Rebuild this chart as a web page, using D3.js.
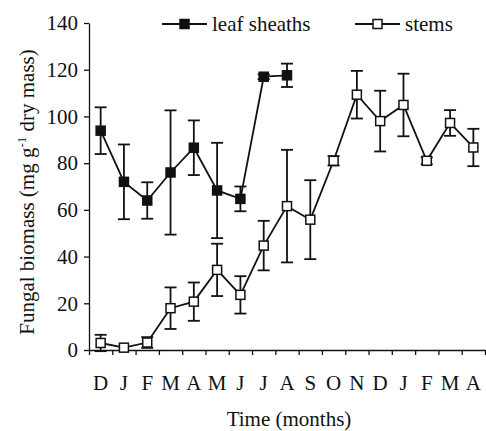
<!DOCTYPE html>
<html>
<head>
<meta charset="utf-8">
<script src="https://cdn.jsdelivr.net/npm/d3@7"></script>
<style>
  html, body { margin: 0; padding: 0; background: #fff; }
  svg { display: block; }
  svg text { font-family: "Liberation Serif", "Times New Roman", Times, "DejaVu Serif", serif !important; fill: #111; }
</style>
</head>
<body>
<script>
// Monthly sampling dates (December to April of the following year)
const months = ["D","J","F","M","A","M","J","J","A","S","O","N","D","J","F","M","A"];

// Leaf sheaths: mean fungal biomass and error (first 9 months)
const leafMean = [93.9, 72.0, 64.0, 76.0, 86.6, 68.3, 64.7, 117.0, 117.6];
const leafErr  = [10.0, 16.0, 7.8, 26.6, 11.7, 20.4, 5.3, 1.0, 5.0];

// Stems: mean fungal biomass and error (all months)
const stemMean = [3.0, 1.0, 3.2, 17.9, 20.7, 34.3, 23.6, 44.7, 61.6, 55.8, 81.0, 109.3, 98.0, 104.9, 81.0, 97.2, 86.7];
const stemErr  = [3.5, 0.0, 2.3, 8.9, 8.2, 11.2, 8.0, 10.6, 24.1, 16.9, 2.0, 10.2, 13.0, 13.4, 1.5, 5.5, 8.0];

const yTicks = [0, 20, 40, 60, 80, 100, 120, 140];

const W = 486, H = 431;
const FONT = '"Liberation Serif", "Times New Roman", Times, "DejaVu Serif", serif';
const FS = "21px";
const svg = d3.select("body").append("svg").attr("width", W).attr("height", H)
  .attr("font-family", FONT);

const x = d3.scaleBand().domain(d3.range(months.length)).range([89, 485]);
const y = d3.scaleLinear().domain([0, 140]).range([350, 23]);
const cx = i => x(i) + x.bandwidth() / 2;

// Axes
const yAxis = d3.axisLeft(y).tickValues(yTicks).tickSize(5).tickPadding(6).tickSizeOuter(0);
const gy = svg.append("g").attr("transform", "translate(89,0)").call(yAxis)
  .attr("font-family", FONT);
gy.selectAll("text").style("font-size", FS).style("font-family", FONT);

const xTickAxis = d3.axisBottom(d3.scaleLinear().domain([0, months.length]).range([89, 485]))
  .tickValues(d3.range(months.length + 1)).tickSize(5).tickSizeOuter(0).tickFormat("");
svg.append("g").attr("transform", "translate(0,350)").call(xTickAxis);

svg.selectAll(".domain, .tick line").attr("stroke", "#111").attr("stroke-width", 1.3);

svg.append("g").selectAll("text").data(months).join("text")
  .attr("x", (d, i) => cx(i)).attr("y", 390)
  .attr("text-anchor", "middle").style("font-size", FS).style("font-family", FONT).text(d => d);

// Axis titles
svg.append("text").attr("x", 289).attr("y", 426).attr("text-anchor", "middle")
  .style("font-size", FS).style("font-family", FONT).text("Time (months)");

const yl = svg.append("text")
  .attr("transform", "translate(34,192) rotate(-90)")
  .attr("text-anchor", "middle").style("font-size", FS).style("font-family", FONT);
yl.append("tspan").text("Fungal biomass (mg g");
yl.append("tspan").attr("dy", -8).style("font-size", "13px").text("-1");
yl.append("tspan").attr("dy", 8).text(" dry mass)");

// Series drawing helper
function drawSeries(mean, err, filled) {
  const idx = d3.range(mean.length);
  const g = svg.append("g");
  const cap = 6;
  const eb = g.append("g").attr("stroke", "#111").attr("stroke-width", 1.8);
  idx.forEach(i => {
    if (err[i] <= 0) return;
    const lo = y(mean[i] - err[i]), hi = y(mean[i] + err[i]);
    eb.append("line").attr("x1", cx(i)).attr("x2", cx(i)).attr("y1", lo).attr("y2", hi);
    eb.append("line").attr("x1", cx(i) - cap).attr("x2", cx(i) + cap).attr("y1", lo).attr("y2", lo);
    eb.append("line").attr("x1", cx(i) - cap).attr("x2", cx(i) + cap).attr("y1", hi).attr("y2", hi);
  });
  const line = d3.line().x(i => cx(i)).y(i => y(mean[i]));
  g.append("path").datum(idx).attr("d", line)
    .attr("fill", "none").attr("stroke", "#111").attr("stroke-width", 1.8);
  const s = 9;
  g.selectAll("rect").data(idx).join("rect")
    .attr("x", i => cx(i) - s / 2).attr("y", i => y(mean[i]) - s / 2)
    .attr("width", s).attr("height", s)
    .attr("fill", filled ? "#111" : "#fff").attr("stroke", "#111").attr("stroke-width", 1.5);
}

drawSeries(stemMean, stemErr, false);
drawSeries(leafMean, leafErr, true);

// Legend
const legend = [
  { label: "leaf sheaths", filled: true, x0: 162 },
  { label: "stems", filled: false, x0: 355 }
];
legend.forEach(l => {
  const g = svg.append("g").attr("transform", `translate(${l.x0},24)`);
  g.append("line").attr("x1", 0).attr("x2", 45).attr("stroke", "#111").attr("stroke-width", 1.8);
  g.append("rect").attr("x", 22.5 - 4.5).attr("y", -4.5).attr("width", 9).attr("height", 9)
    .attr("fill", l.filled ? "#111" : "#fff").attr("stroke", "#111").attr("stroke-width", 1.5);
  g.append("text").attr("x", 50).attr("y", 7).style("font-size", FS).style("font-family", FONT).text(l.label);
});
</script>
</body>
</html>
